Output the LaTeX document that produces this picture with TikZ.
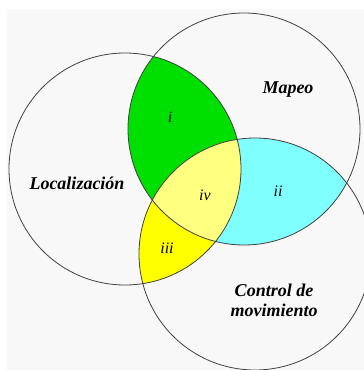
\documentclass[tikz,border=0pt]{standalone}
\usepackage{fontspec}
\setmainfont{Liberation Serif}
\definecolor{bgc}{RGB}{248,248,248}
\definecolor{greenc}{RGB}{0,224,0}
\definecolor{cyanc}{RGB}{128,255,255}
\definecolor{yellowc}{RGB}{255,255,0}
\definecolor{paleyc}{RGB}{255,255,128}
\definecolor{linec}{RGB}{64,64,64}
\begin{document}
\begin{tikzpicture}[x=1pt,y=-1pt,
  ring/.style={draw=linec,line width=0.8pt},
  setlabel/.style={font=\fontsize{18}{20}\selectfont\bfseries\itshape,align=center,inner sep=0pt},
  numlabel/.style={font=\fontsize{16}{17}\selectfont\itshape,inner sep=0pt}]
\useasboundingbox (0,0) rectangle (364,370);
\fill[bgc] (7,9) rectangle (364,370);
\def\R{116}
\coordinate (cl) at (125,169);
\coordinate (cm) at (244,129);
\coordinate (cc) at (255,254);
% region i + iv base (L and M)
\begin{scope}
  \clip (cl) circle (\R);
  \clip (cm) circle (\R);
  \fill[greenc] (0,0) rectangle (364,370);
\end{scope}
% region ii (M and C)
\begin{scope}
  \clip (cm) circle (\R);
  \clip (cc) circle (\R);
  \fill[cyanc] (0,0) rectangle (364,370);
\end{scope}
% region iii (L and C)
\begin{scope}
  \clip (cl) circle (\R);
  \clip (cc) circle (\R);
  \fill[yellowc] (0,0) rectangle (364,370);
\end{scope}
% region iv (all three)
\begin{scope}
  \clip (cl) circle (\R);
  \clip (cm) circle (\R);
  \clip (cc) circle (\R);
  \fill[paleyc] (0,0) rectangle (364,370);
\end{scope}
\draw[ring] (cl) circle (\R);
\draw[ring] (cm) circle (\R);
\draw[ring] (cc) circle (\R);
\node[setlabel] (loc) at (77,183) {Localización};
\node[setlabel] (map) at (288,90) {Mapeo};
\node[setlabel] (ctl) at (274,300) {Control de\\movimiento};
\node[numlabel] (ri) at (170,117) {i};
\node[numlabel] (rii) at (278,191) {ii};
\node[numlabel] (riii) at (167,248) {iii};
\node[numlabel] (riv) at (205,195) {iv};
\end{tikzpicture}
\end{document}
